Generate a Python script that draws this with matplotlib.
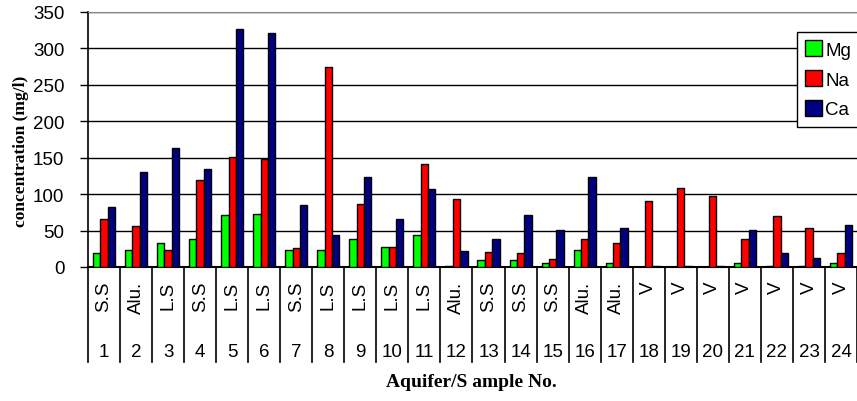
import matplotlib.pyplot as plt
import matplotlib.transforms as mtransforms
import numpy as np

samples = [str(i) for i in range(1, 25)]
aquifers = ["S.S", "Alu.", "L.S", "S.S", "L.S", "L.S", "S.S", "L.S", "L.S", "L.S",
            "L.S", "Alu.", "S.S", "S.S", "S.S", "Alu.", "Alu.", "V", "V", "V",
            "V", "V", "V", "V"]
mg = [19, 24, 33, 39, 71, 73, 23, 23, 39, 27, 44, 1, 9, 9, 6, 24, 6, 0.5, 0.5, 0.5, 6, 1, 1, 6]
na = [66, 56, 23, 120, 151, 148, 26, 275, 87, 27, 141, 93, 21, 19, 11, 39, 33, 90, 109, 97, 39, 70, 53, 19]
ca = [82, 131, 163, 134, 326, 321, 85, 44, 124, 66, 107, 22, 39, 71, 51, 124, 54, 1, 1, 1, 51, 19, 12, 58]

series = [("Mg", mg, "#00ff00"), ("Na", na, "#ff0000"), ("Ca", ca, "#000080")]

fig = plt.figure(figsize=(8.57, 4.02), dpi=100)
ax = fig.add_axes([88 / 857, 1 - 268 / 402, 1 - 88 / 857, 255 / 402])

x = np.arange(len(samples))
w = 0.23
for k, (name, vals, col) in enumerate(series):
    ax.bar(x + (k - 1) * w, vals, w, color=col, edgecolor="black", linewidth=1.0,
           label=name, zorder=3)

ax.set_xlim(-0.5, len(samples) - 0.5)
ax.set_ylim(0, 350)
ax.set_yticks(range(0, 351, 50))
ax.yaxis.grid(True, color="black", linewidth=1.0, zorder=0)
ax.tick_params(axis="y", labelsize=13.5, length=6, width=1, pad=11)
for lab in ax.get_yticklabels():
    lab.set_family("Liberation Sans")
ax.set_xticks([])
ax.spines["right"].set_visible(False)
ax.spines["top"].set_color("#888888")
ax.spines["left"].set_linewidth(1.2)
ax.spines["bottom"].set_linewidth(1.5)

# two-level category labels under the axis
trans = mtransforms.blended_transform_factory(ax.transData, ax.transAxes)
for i in range(len(samples) + 1):
    ax.plot([i - 0.5, i - 0.5], [0, -0.373], transform=trans, color="black",
            linewidth=1.2, clip_on=False)
for i in range(len(samples)):
    ax.text(i, -0.052, aquifers[i], transform=trans, rotation=90, ha="center",
            va="top", fontsize=13.5, family="Liberation Sans")
    ax.text(i, -0.333, samples[i], transform=trans, ha="center", va="center",
            fontsize=13.5, family="Liberation Sans")

fig.text(21 / 857, 1 - 151 / 402, "concentration (mg/l)", rotation=90, ha="center",
         va="center", fontsize=12.5, fontweight="bold", family="Liberation Serif")
fig.text(471 / 857, 1 - 383 / 402, "Aquifer/S ample No.", ha="center", va="center",
         fontsize=14, fontweight="bold", family="Liberation Serif")

leg = ax.legend(loc="upper left", bbox_to_anchor=((797 - 88) / 769, (268 - 33) / 255),
                fancybox=False, edgecolor="black", framealpha=1,
                prop={"family": "Liberation Sans", "size": 13.5},
                handlelength=0.9, handleheight=0.9, handletextpad=0.15,
                labelspacing=0.62, borderpad=0.45, borderaxespad=0)
leg.get_frame().set_linewidth(1.0)

fig.savefig("out.png", dpi=100)
